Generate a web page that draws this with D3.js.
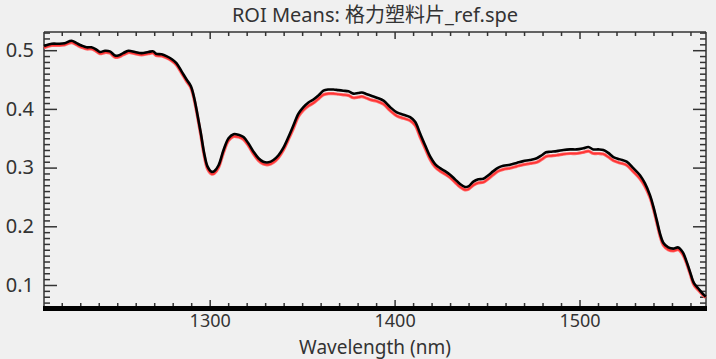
<!DOCTYPE html>
<html><head><meta charset="utf-8">
<script src="https://cdn.jsdelivr.net/npm/d3@7"></script>
<style>
html,body{margin:0;padding:0;background:#f0f0f0;}
svg{display:block;}
text{font-family:"Noto Sans","Noto Sans CJK SC",sans-serif;fill:#333;}
</style></head><body>
<div id="chart"></div>
<script>
const title = "ROI Means: 格力塑料片_ref.spe";
const xLabel = "Wavelength (nm)";
const xTickValues = [1300, 1400, 1500];
const yTickValues = [0.1, 0.2, 0.3, 0.4, 0.5];

const wavelength = [1210.4,1214.6,1218.8,1221.5,1225.3,1228.0,1230.7,1233.4,1236.0,1238.3,1240.6,1243.4,1246.0,1248.8,1250.5,1253.2,1256.0,1259.6,1263.1,1266.8,1269.5,1271.0,1274.0,1276.6,1279.4,1282.0,1284.8,1287.5,1289.8,1291.6,1293.4,1295.2,1297.0,1298.8,1301.0,1302.5,1304.8,1307.5,1310.2,1312.9,1315.6,1318.3,1321.0,1323.7,1326.4,1329.0,1331.8,1334.5,1337.2,1339.9,1342.6,1345.3,1348.0,1350.7,1353.4,1356.1,1358.8,1361.5,1364.2,1366.9,1369.6,1372.3,1375.0,1377.7,1380.4,1382.3,1385.0,1387.7,1390.4,1394.0,1397.6,1401.2,1404.8,1408.4,1411.1,1413.8,1416.5,1419.2,1421.9,1424.6,1427.3,1430.0,1432.7,1435.4,1438.1,1439.9,1442.6,1445.3,1448.0,1450.7,1453.4,1456.1,1458.8,1462.4,1466.0,1469.6,1473.2,1476.9,1479.6,1481.9,1484.1,1487.7,1491.3,1494.9,1498.5,1502.1,1504.8,1507.5,1510.2,1512.9,1515.6,1518.3,1521.9,1525.5,1529.1,1532.7,1535.4,1538.1,1539.9,1541.8,1543.5,1545.3,1548.0,1550.7,1553.4,1555.8,1558.0,1559.8,1561.9,1564.3,1567.0,1568.3];

const meanBlack = [0.507,0.511,0.511,0.512,0.516,0.512,0.508,0.505,0.505,0.502,0.497,0.499,0.498,0.491,0.491,0.495,0.499,0.497,0.495,0.497,0.498,0.494,0.493,0.490,0.485,0.478,0.464,0.450,0.439,0.419,0.390,0.359,0.325,0.302,0.293,0.294,0.304,0.330,0.350,0.357,0.356,0.352,0.341,0.327,0.316,0.310,0.309,0.313,0.321,0.334,0.352,0.372,0.392,0.403,0.411,0.416,0.423,0.431,0.433,0.433,0.432,0.431,0.430,0.426,0.427,0.428,0.425,0.422,0.419,0.414,0.403,0.394,0.390,0.386,0.378,0.358,0.338,0.319,0.306,0.299,0.294,0.288,0.280,0.272,0.267,0.268,0.276,0.280,0.281,0.287,0.294,0.300,0.303,0.305,0.308,0.311,0.313,0.316,0.321,0.326,0.327,0.328,0.330,0.331,0.331,0.333,0.335,0.331,0.331,0.330,0.325,0.318,0.314,0.310,0.299,0.287,0.273,0.253,0.234,0.210,0.188,0.172,0.164,0.162,0.164,0.156,0.139,0.122,0.103,0.094,0.084,0.080];

const meanRed = [0.504,0.508,0.508,0.509,0.513,0.509,0.505,0.502,0.502,0.499,0.494,0.496,0.495,0.488,0.488,0.492,0.496,0.494,0.492,0.494,0.495,0.491,0.490,0.487,0.482,0.475,0.461,0.447,0.436,0.416,0.387,0.355,0.321,0.298,0.289,0.290,0.300,0.326,0.346,0.353,0.352,0.348,0.337,0.323,0.312,0.306,0.305,0.309,0.317,0.330,0.348,0.367,0.387,0.398,0.405,0.410,0.417,0.424,0.426,0.426,0.425,0.424,0.423,0.419,0.420,0.421,0.418,0.415,0.413,0.408,0.397,0.388,0.384,0.380,0.372,0.352,0.333,0.314,0.301,0.294,0.289,0.283,0.275,0.267,0.262,0.263,0.270,0.274,0.275,0.281,0.288,0.294,0.297,0.299,0.302,0.305,0.307,0.309,0.314,0.319,0.320,0.321,0.323,0.324,0.324,0.326,0.328,0.324,0.324,0.323,0.318,0.312,0.308,0.304,0.293,0.281,0.268,0.249,0.230,0.206,0.184,0.168,0.160,0.158,0.160,0.152,0.136,0.119,0.100,0.091,0.082,0.079];

const W = 716, H = 359;
const margin = {left: 44, right: 10, top: 32, bottom: 52};
const x = d3.scaleLinear().domain([1210.4, 1568.4]).range([margin.left, W - margin.right]);
const y = d3.scaleLinear().domain([0.0625, 0.531]).range([H - margin.bottom, margin.top]);

const svg = d3.select("#chart").append("svg").attr("width", W).attr("height", H);
svg.append("rect").attr("width", W).attr("height", H).attr("fill", "#f0f0f0");

const x0 = margin.left, x1 = W - margin.right, y0 = H - margin.bottom, y1 = margin.top;

// Frame lines
svg.append("line").attr("x1", x0).attr("x2", x0).attr("y1", y1).attr("y2", y0).attr("stroke", "#333").attr("stroke-width", 1.5);
svg.append("line").attr("x1", x1).attr("x2", x1).attr("y1", y1).attr("y2", y0).attr("stroke", "#333").attr("stroke-width", 1.5);
svg.append("line").attr("x1", x0).attr("x2", x1).attr("y1", y1).attr("y2", y1).attr("stroke", "#333").attr("stroke-width", 1.5);

const xMinor = d3.range(1220, 1570, 10).filter(v => v % 100 !== 0);
const yMinor = d3.range(7, 54).map(i => i / 100).filter(v => Math.round(v * 100) % 10 !== 0);

function styleAxis(g) {
  g.select(".domain").remove();
  g.selectAll(".tick line").attr("stroke", "#333").attr("stroke-width", 1.5);
}
// bottom
svg.append("g").attr("transform", `translate(0,${y0})`)
  .call(d3.axisBottom(x).tickValues(xMinor).tickSize(-4).tickFormat("")).call(styleAxis);
svg.append("g").attr("transform", `translate(0,${y0})`)
  .call(d3.axisBottom(x).tickValues(xTickValues).tickSize(-7).tickPadding(7).tickFormat(d3.format("d")))
  .call(styleAxis)
  .call(g => g.selectAll("text").attr("font-size", 18).attr("fill", "#333"));
// top
svg.append("g").attr("transform", `translate(0,${y1})`)
  .call(d3.axisTop(x).tickValues(xMinor).tickSize(-4).tickFormat("")).call(styleAxis);
svg.append("g").attr("transform", `translate(0,${y1})`)
  .call(d3.axisTop(x).tickValues(xTickValues).tickSize(-7).tickFormat("")).call(styleAxis);
// left
svg.append("g").attr("transform", `translate(${x0},0)`)
  .call(d3.axisLeft(y).tickValues(yMinor).tickSize(-6).tickFormat("")).call(styleAxis);
svg.append("g").attr("transform", `translate(${x0},0)`)
  .call(d3.axisLeft(y).tickValues(yTickValues).tickSize(-13).tickPadding(10).tickFormat(d3.format(".1f")))
  .call(styleAxis)
  .call(g => g.selectAll("text").attr("font-size", 20).attr("fill", "#333"));
// right
svg.append("g").attr("transform", `translate(${x1},0)`)
  .call(d3.axisRight(y).tickValues(yMinor).tickSize(-6).tickFormat("")).call(styleAxis);
svg.append("g").attr("transform", `translate(${x1},0)`)
  .call(d3.axisRight(y).tickValues(yTickValues).tickSize(-13).tickFormat("")).call(styleAxis);

// thick bottom axis line
svg.append("line").attr("x1", x0 - 1).attr("x2", x1 + 1).attr("y1", y0 + 1.5).attr("y2", y0 + 1.5)
  .attr("stroke", "#000").attr("stroke-width", 5);

// curves
const redData = wavelength.map((w, i) => [w, meanRed[i]]);
const blackData = wavelength.map((w, i) => [w, meanBlack[i]]);
const line = d3.line().x(d => x(d[0])).y(d => y(d[1])).curve(d3.curveCatmullRom.alpha(0.5));

svg.append("path").datum(redData).attr("d", line).attr("fill", "none")
  .attr("stroke", "#ff6b6b").attr("stroke-width", 3.2).attr("stroke-linejoin", "round");
svg.append("path").datum(redData).attr("d", line).attr("fill", "none")
  .attr("stroke", "#ff3333").attr("stroke-width", 1.6).attr("stroke-linejoin", "round");
svg.append("path").datum(blackData).attr("d", line).attr("fill", "none")
  .attr("stroke", "#000").attr("stroke-width", 2.6).attr("stroke-linejoin", "round");

// title
svg.append("text").attr("x", (x0 + x1) / 2).attr("y", 22).attr("text-anchor", "middle")
  .attr("font-size", 20).attr("fill", "#333").text(title);
// x label
svg.append("text").attr("x", (x0 + x1) / 2).attr("y", 353.5).attr("text-anchor", "middle")
  .attr("font-size", 19).attr("fill", "#333").text(xLabel);
</script>
</body></html>
